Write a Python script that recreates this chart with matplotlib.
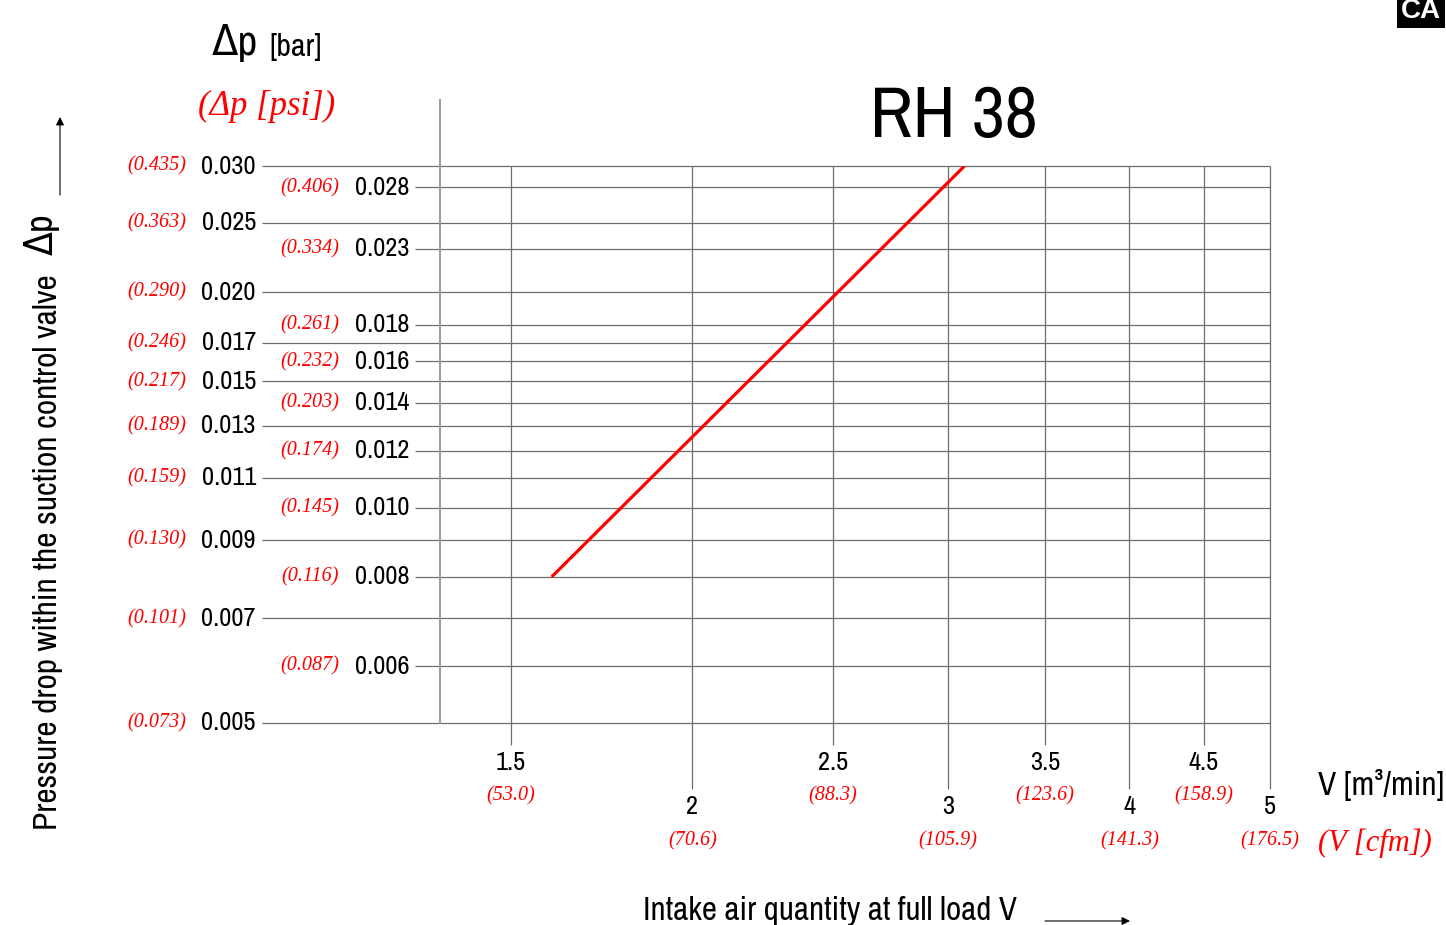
import matplotlib
matplotlib.use("Agg")
import matplotlib.pyplot as plt
from matplotlib import font_manager


def narrow_font():
    # look for a condensed sans; the chart uses a tall narrow CAD font
    fonts = font_manager.fontManager.ttflist
    for f in fonts:
        if ("Narrow" in f.name or "Condensed" in f.name) and f.style == "normal":
            return f.name, f.stretch, True
    for f in fonts:
        if str(f.stretch) in ("condensed", "semi-condensed", "extra-condensed") and f.style == "normal":
            return f.name, f.stretch, True
    return "Liberation Sans", "normal", False


SANS, STRETCH, IS_NARROW = narrow_font()
SERIF = "Liberation Serif"
K = 1.0 if IS_NARROW else 0.78  # shrink a wide fallback font

# data
flow_ticks = [1.5, 2, 2.5, 3, 3.5, 4, 4.5, 5]
flow_labels = ["1.5", "2", "2.5", "3", "3.5", "4", "4.5", "5"]
flow_cfm = ["53.0", "70.6", "88.3", "105.9", "123.6", "141.3", "158.9", "176.5"]
dp_left = [0.030, 0.025, 0.020, 0.017, 0.015, 0.013, 0.011, 0.009, 0.007, 0.005]
psi_left = ["0.435", "0.363", "0.290", "0.246", "0.217", "0.189", "0.159", "0.130", "0.101", "0.073"]
dp_right = [0.028, 0.023, 0.018, 0.016, 0.014, 0.012, 0.010, 0.008, 0.006]
psi_right = ["0.406", "0.334", "0.261", "0.232", "0.203", "0.174", "0.145", "0.116", "0.087"]
curve_v = [1.6, 3.08]
curve_dp = [0.008, 0.030]

W, H = 1446, 925
GRID = "#6e6e6e"
RED = "#ff0000"
sans = dict(family=[SANS, "DejaVu Sans"], fontstretch=STRETCH)
red = dict(family=[SERIF, "DejaVu Serif"], style="italic", color=RED)

fig = plt.figure(figsize=(W / 100, H / 100), dpi=100)
ax = fig.add_axes([440 / W, 1 - 723 / H, 830 / W, 557 / H])
ax.set_xscale("log")
ax.set_yscale("log")
ax.set_xlim(1.3403, 5)
ax.set_ylim(0.005, 0.030)
ax.axis("off")

ytr = ax.get_yaxis_transform()
xtr = ax.get_xaxis_transform()

# horizontal grid, two staggered label columns
ax.hlines(dp_left, -0.2145, 1, transform=ytr, colors=GRID, lw=0.9, clip_on=False)
ax.hlines(dp_right, -0.030, 1, transform=ytr, colors=GRID, lw=0.9, clip_on=False)
for v, p in zip(dp_left, psi_left):
    ax.text(-0.2217, v, f"{v:.3f}", transform=ytr, ha="right", va="center",
            fontsize=19 * K, **sans)
    ax.text(-0.306, v, f"({p})", transform=ytr, ha="right", va="center",
            fontsize=14.5, **red)
for v, p in zip(dp_right, psi_right):
    ax.text(-0.037, v, f"{v:.3f}", transform=ytr, ha="right", va="center",
            fontsize=19 * K, **sans)
    ax.text(-0.1217, v, f"({p})", transform=ytr, ha="right", va="center",
            fontsize=14.5, **red)

# vertical grid, alternating label rows
for i, (v, lab, cfm) in enumerate(zip(flow_ticks, flow_labels, flow_cfm)):
    low = i % 2 == 1
    ax.vlines(v, -0.1185 if low else -0.0395, 1, transform=xtr, colors=GRID,
              lw=0.9, clip_on=False)
    ax.text(v, -0.1508 if low else -0.0718, lab, transform=xtr, ha="center",
            va="center", fontsize=19 * K, **sans)
    ax.text(v, -0.212 if low else -0.131, f"({cfm})", transform=xtr, ha="center",
            va="center", fontsize=14.5, **red)

# axis line on the left
ax.plot([0, 0], [0, 1.1185], transform=ax.transAxes, color="#9a9a9a", lw=1.4,
        clip_on=False)

# the curve
ax.plot(curve_v, curve_dp, color=RED, lw=2.3, solid_capstyle="butt", zorder=5)

# titles and axis texts
fig.text(954 / W, 1 - 137 / H, "RH 38", ha="center", va="baseline",
         fontsize=52 * K, **sans)
fig.text(212 / W, 1 - 55 / H, "\u0394p", ha="left", va="baseline",
         fontsize=31 * K, **sans)
fig.text(322 / W, 1 - 56 / H, "[bar]", ha="right", va="baseline",
         fontsize=23 * K, **sans)
fig.text(267 / W, 1 - 106 / H, "(\u0394p [psi])", ha="center", va="center",
         fontsize=25, **red)

fig.text(1444 / W, 1 - 795 / H, "V [m\u00b3/min]", ha="right", va="baseline",
         fontsize=24 * K, **sans)
fig.text(1375 / W, 1 - 843 / H, "(V [cfm])", ha="center", va="center",
         fontsize=22, **red)

fig.text(48 / W, 1 - 830 / H, "Pressure drop within the suction control valve",
         rotation=90, ha="center", va="bottom", fontsize=24 * K, **sans)
fig.text(42 / W, 1 - 213 / H, "\u0394p", rotation=90, ha="center", va="top",
         fontsize=28 * K, **sans)
fig.text(830 / W, 1 - 920 / H, "Intake air quantity at full load V",
         ha="center", va="baseline", fontsize=23.8 * K, **sans)

arrow = dict(arrowstyle="-|>", lw=0.8, color="black", mutation_scale=12,
             shrinkA=0, shrinkB=0)
fig.add_artist(matplotlib.patches.FancyArrowPatch(
    (60 / W, 1 - 195 / H), (60 / W, 1 - 117 / H), transform=fig.transFigure, **arrow))
fig.add_artist(matplotlib.patches.FancyArrowPatch(
    (1045 / W, 1 - 921 / H), (1130 / W, 1 - 921 / H), transform=fig.transFigure, **arrow))

fig.text(1421 / W, 1 - 18 / H, "CA", ha="center", va="baseline", color="white",
         fontsize=20, fontweight="bold", family="Liberation Sans",
         bbox=dict(facecolor="black", edgecolor="none", pad=3))

fig.savefig("out.png", dpi=100)
